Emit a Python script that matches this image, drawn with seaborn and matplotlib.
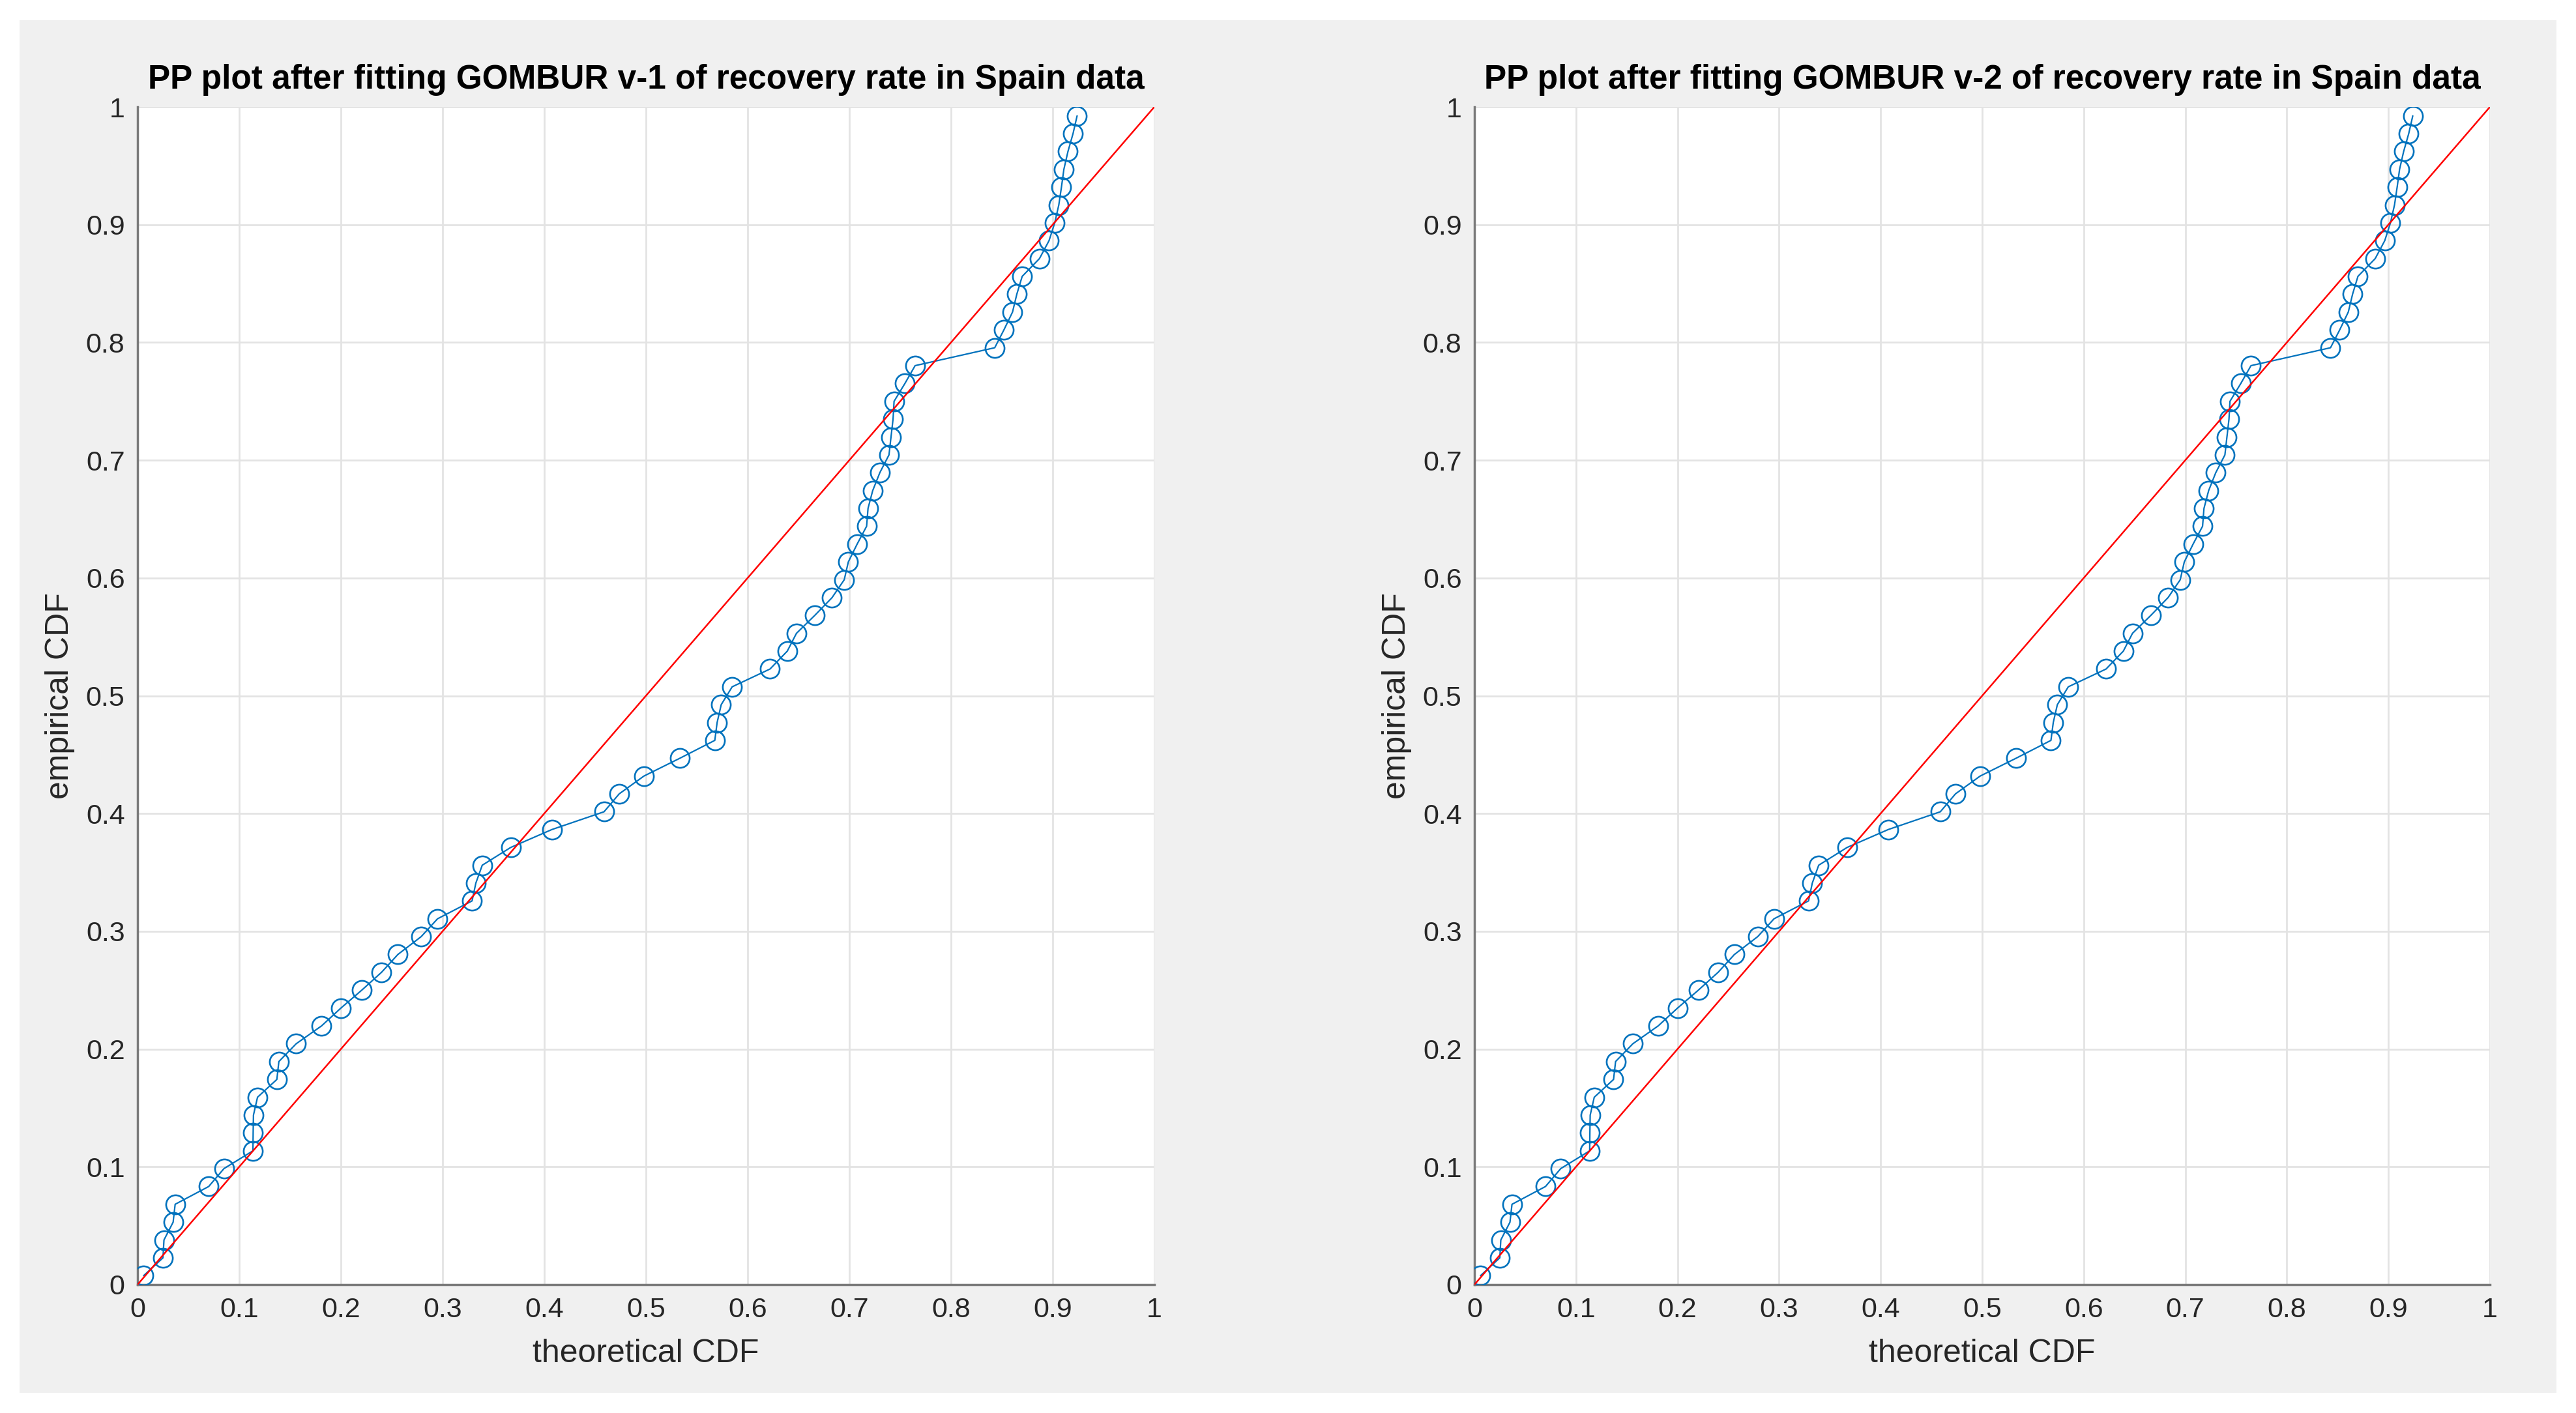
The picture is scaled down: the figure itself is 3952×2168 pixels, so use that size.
import matplotlib
matplotlib.use("Agg")
import matplotlib.pyplot as plt
from matplotlib.patches import Rectangle
import seaborn as sns
import pandas as pd

# ---- data ----
theoretical_cdf_v1 = [0.006, 0.025, 0.026, 0.035, 0.037, 0.070, 0.085, 0.1135, 0.1137, 0.114,
                      0.118, 0.137, 0.139, 0.156, 0.181, 0.200, 0.2205, 0.240, 0.256, 0.279,
                      0.295, 0.329, 0.3327, 0.339, 0.367, 0.4075, 0.4588, 0.4737, 0.498, 0.5335,
                      0.5677, 0.570, 0.574, 0.5848, 0.622, 0.639, 0.648, 0.666, 0.683, 0.695,
                      0.699, 0.7077, 0.717, 0.7184, 0.723, 0.730, 0.739, 0.741, 0.743, 0.744,
                      0.7547, 0.7647, 0.843, 0.852, 0.8605, 0.8647, 0.870, 0.887, 0.8964, 0.902,
                      0.906, 0.9086, 0.911, 0.915, 0.920, 0.924]
theoretical_cdf_v2 = list(theoretical_cdf_v1)
empirical_cdf = [0.0076, 0.0227, 0.0379, 0.0530, 0.0682, 0.0833, 0.0985, 0.1136, 0.1288, 0.1439,
                 0.1591, 0.1742, 0.1894, 0.2045, 0.2197, 0.2348, 0.2500, 0.2652, 0.2803, 0.2955,
                 0.3106, 0.3258, 0.3409, 0.3561, 0.3712, 0.3864, 0.4015, 0.4167, 0.4318, 0.4470,
                 0.4621, 0.4773, 0.4924, 0.5076, 0.5227, 0.5379, 0.5530, 0.5682, 0.5833, 0.5985,
                 0.6136, 0.6288, 0.6439, 0.6591, 0.6742, 0.6894, 0.7045, 0.7197, 0.7348, 0.7500,
                 0.7652, 0.7803, 0.7955, 0.8106, 0.8258, 0.8409, 0.8561, 0.8712, 0.8864, 0.9015,
                 0.9167, 0.9318, 0.9470, 0.9621, 0.9773, 0.9924]
ref_line = [0.0, 1.0]
ticks = [0, 0.1, 0.2, 0.3, 0.4, 0.5, 0.6, 0.7, 0.8, 0.9, 1]
tick_labels = ["0", "0.1", "0.2", "0.3", "0.4", "0.5", "0.6", "0.7", "0.8", "0.9", "1"]
titles = ["PP plot after fitting GOMBUR v-1 of recovery rate in Spain data",
          "PP plot after fitting GOMBUR v-2 of recovery rate in Spain data"]
xlabel = "theoretical CDF"
ylabel = "empirical CDF"

sns.set_theme(style="white")
plt.rcParams["font.family"] = ["Liberation Sans", "DejaVu Sans"]

W, H = 3952, 2168
fig = plt.figure(figsize=(W / 100, H / 100), dpi=100, facecolor="white")
fig.patches.append(Rectangle((30 / W, 31 / H), 3892 / W, 2106 / H,
                             transform=fig.transFigure, facecolor="#f0f0f0",
                             edgecolor="none", zorder=-10))

axes_px = [(211, 1560), (2262, 1558)]
blue = "#0072BD"
for i, (x0, w) in enumerate(axes_px):
    ax = fig.add_axes([x0 / W, (H - 1971) / H, w / W, 1807 / H])
    ax.set_facecolor("white")
    theo = theoretical_cdf_v1 if i == 0 else theoretical_cdf_v2
    df = pd.DataFrame({"theoretical": theo, "empirical": empirical_cdf})
    sns.lineplot(data=df, x="theoretical", y="empirical", ax=ax, sort=False,
                 estimator=None, color=blue, linewidth=1.6, marker="o",
                 markersize=21, markerfacecolor="none", markeredgecolor=blue,
                 markeredgewidth=1.9, zorder=3)
    sns.lineplot(x=ref_line, y=ref_line, ax=ax, color="#ff0000", linewidth=1.8,
                 zorder=4)
    ax.set_xlim(0, 1)
    ax.set_ylim(0, 1)
    ax.set_xticks(ticks)
    ax.set_yticks(ticks)
    ax.set_xticklabels(tick_labels)
    ax.set_yticklabels(tick_labels)
    ax.grid(True, color="#e3e3e3", linewidth=2.0)
    ax.set_axisbelow(True)
    for s in ["top", "right"]:
        ax.spines[s].set_visible(False)
    for s in ["left", "bottom"]:
        ax.spines[s].set_color("#7a7a7a")
        ax.spines[s].set_linewidth(2.5)
    ax.tick_params(axis="both", direction="in", length=10, width=2,
                   color="#555555", labelsize=31, labelcolor="#262626", pad=14)
    ax.set_xlabel(xlabel, fontsize=36, color="#262626", labelpad=17)
    ax.set_ylabel(ylabel, fontsize=36, color="#262626", labelpad=12)
    ax.set_title(titles[i], fontsize=37, fontweight="bold", color="black", pad=20)

fig.savefig("out.png", dpi=100, facecolor="white")
